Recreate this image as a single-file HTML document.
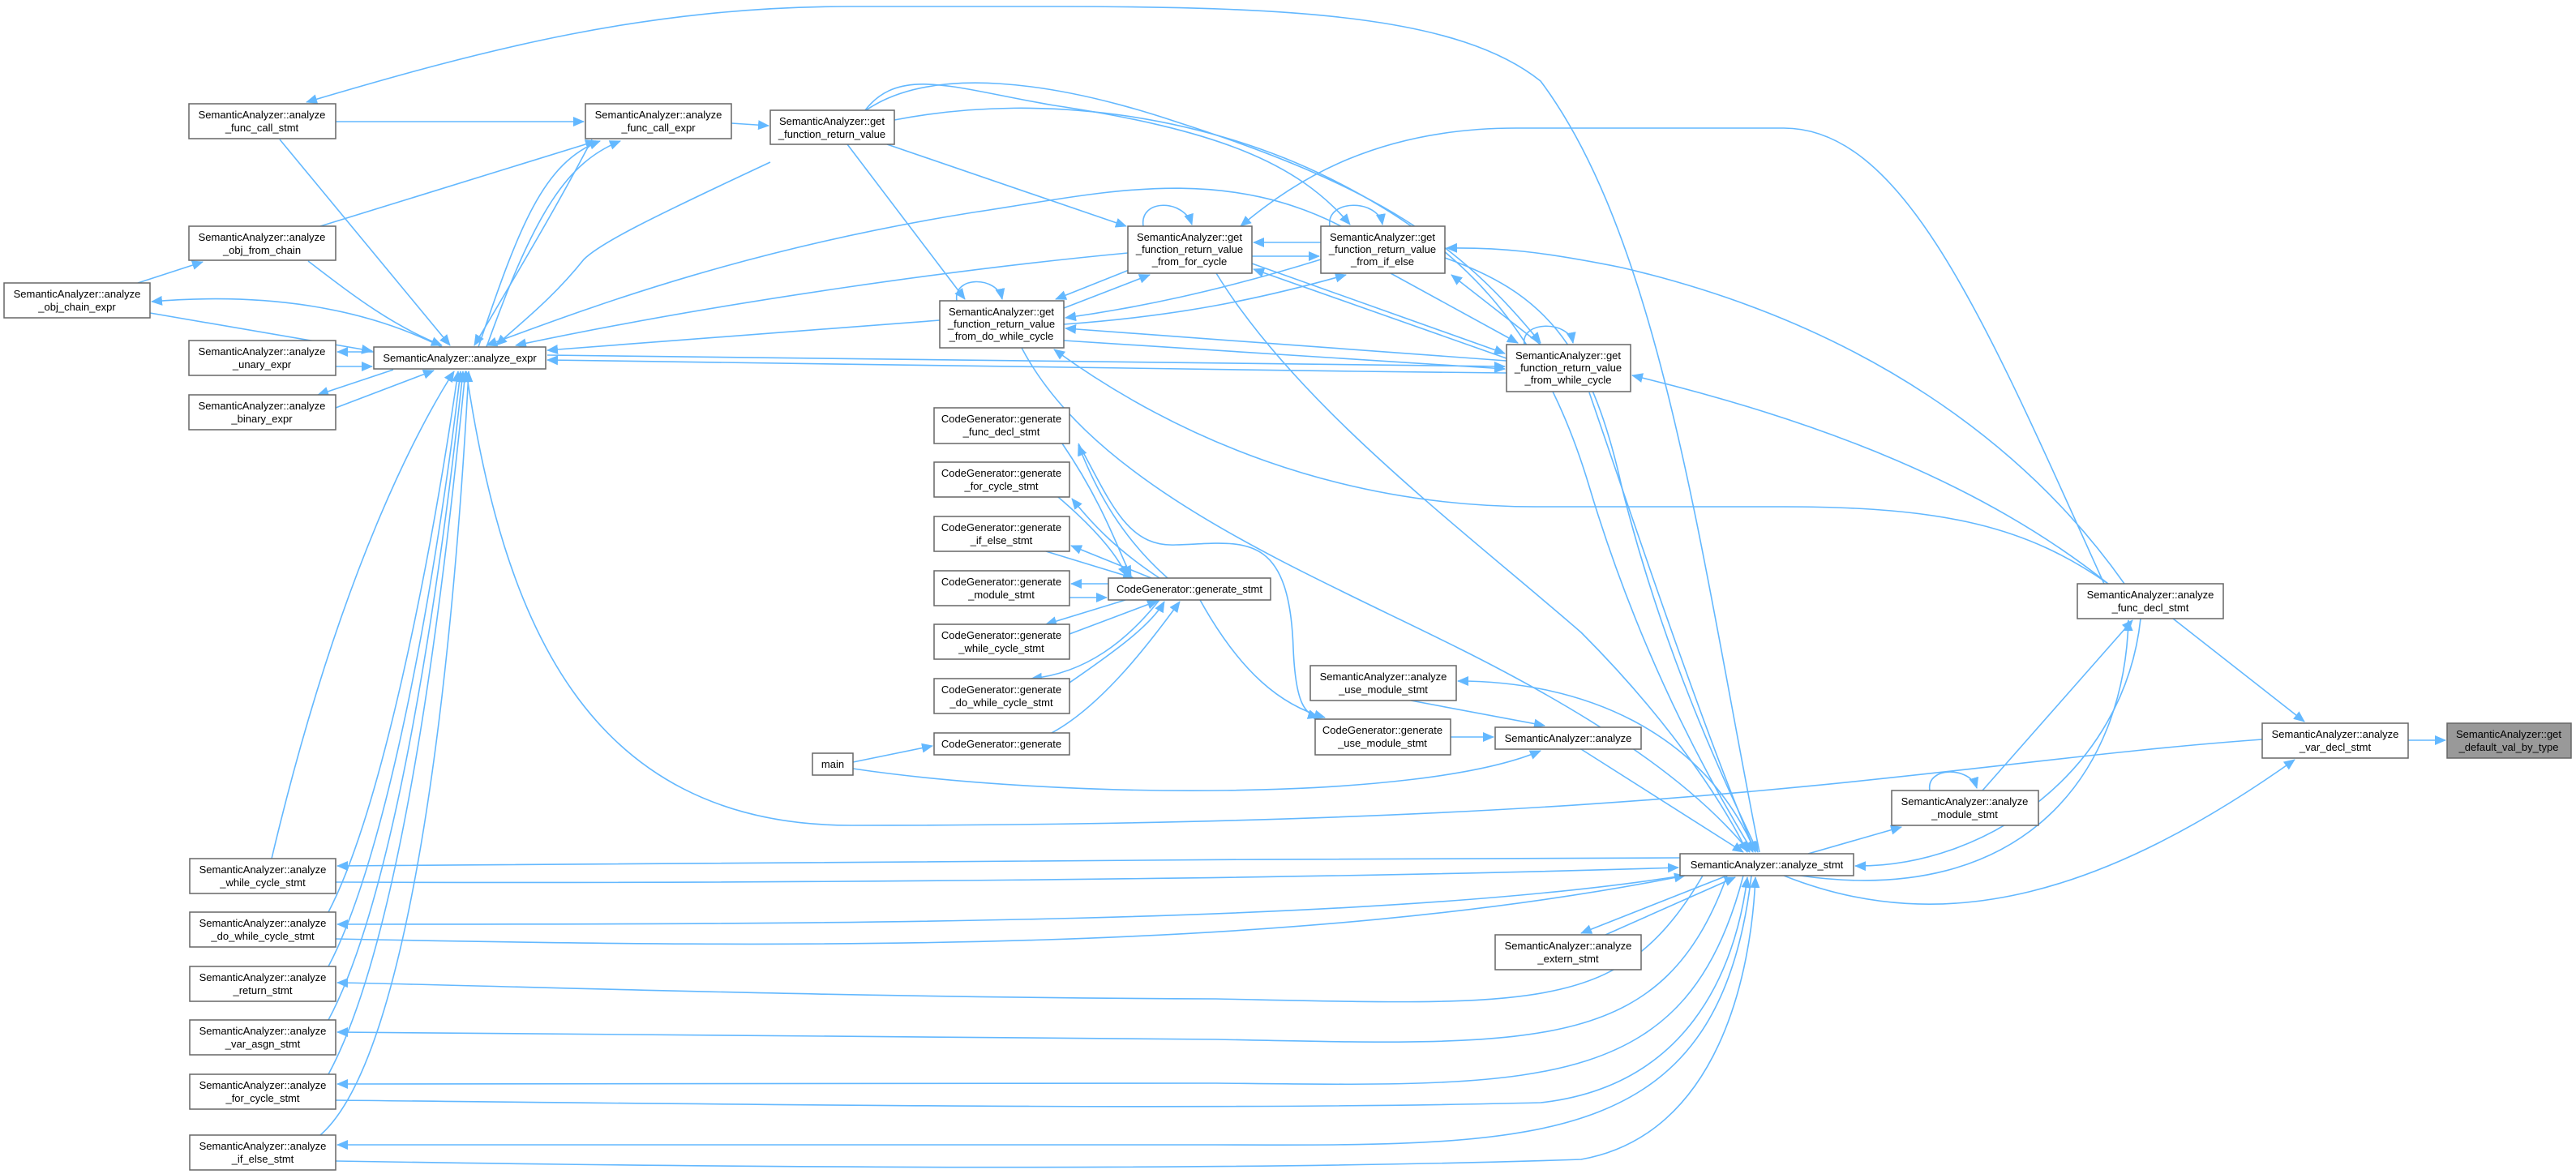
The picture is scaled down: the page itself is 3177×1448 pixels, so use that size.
<!DOCTYPE html>
<html><head><meta charset="utf-8"><style>
html,body{margin:0;padding:0;background:#fff;}
svg{display:block;}
text{font-family:"Liberation Sans",Arial,sans-serif;font-size:13px;fill:#000;text-anchor:middle;}
.n{fill:#fff;stroke:#666;stroke-width:1.5;}
.e{fill:none;stroke:#63b8ff;stroke-width:1.6;marker-end:url(#a);}
</style></head><body>
<svg width="3177" height="1448" viewBox="0 0 3177 1448" xmlns="http://www.w3.org/2000/svg">
<defs><marker id="a" markerWidth="14" markerHeight="12" refX="13" refY="6" orient="auto" markerUnits="userSpaceOnUse"><path d="M0,0 L14,6 L0,12 z" fill="#63b8ff"/></marker></defs>
<g>
<path class="e" d="M414,150 L720,150"/>
<path class="e" d="M902,152 L948,155"/>
<path class="e" d="M345,172 L555,426"/>
<path class="e" d="M395,279 L735,174"/>
<path class="e" d="M380,322 C430,360 480,400 545,426"/>
<path class="e" d="M170,349 L250,323"/>
<path class="e" d="M545,428 C450,380 330,360 187,372"/>
<path class="e" d="M185,386 C300,405 380,420 459,433"/>
<path class="e" d="M461,434 L416,434"/>
<path class="e" d="M414,452 L459,452"/>
<path class="e" d="M485,456 L392,487"/>
<path class="e" d="M414,503 L535,457"/>
<path class="e" d="M730,172 C700,230 660,300 585,426"/>
<path class="e" d="M590,428 C640,280 670,200 740,174"/>
<path class="e" d="M600,428 C660,260 700,200 765,174"/>
<path class="e" d="M950,200 C800,270 740,300 720,320 C680,370 640,400 612,426"/>
<path class="e" d="M1654,279 C1500,200 1350,240 1200,262 C900,310 700,390 600,426"/>
<path class="e" d="M1391,312 C1200,330 900,370 636,426"/>
<path class="e" d="M1159,395 L675,432"/>
<path class="e" d="M1858,460 C1400,455 900,450 675,444"/>
<path class="e" d="M675,438 C1200,444 1600,452 1856,452"/>
<path class="e" d="M2790,912 C2400,940 2100,1018 1050,1018 C720,1018 620,760 575,458"/>
<path class="e" d="M335,1059 C420,700 520,520 560,458"/>
<path class="e" d="M405,1125 C470,1000 530,700 565,458"/>
<path class="e" d="M405,1192 C480,1050 540,700 568,458"/>
<path class="e" d="M405,1258 C490,1100 545,700 571,458"/>
<path class="e" d="M405,1325 C500,1150 550,700 574,458"/>
<path class="e" d="M395,1400 C510,1300 560,800 578,458"/>
<path class="e" d="M1094,178 L1389,279"/>
<path class="e" d="M1045,178 L1190,369"/>
<path class="e" d="M1067,136 C1110,80 1180,110 1300,130 C1500,160 1600,200 1665,277"/>
<path class="e" d="M1103,148 C1300,110 1500,150 1640,220 C1800,300 1900,400 1960,600 C2020,800 2100,950 2162,1051"/>
<path class="e" d="M1068,136 C1150,80 1300,100 1450,150 C1700,230 1800,300 1900,423"/>
<path class="e" d="M1629,299 L1546,299"/>
<path class="e" d="M1544,316 L1627,316"/>
<path class="e" d="M1400,330 L1302,369"/>
<path class="e" d="M1312,380 L1418,339"/>
<path class="e" d="M1629,320 C1500,360 1400,380 1314,392"/>
<path class="e" d="M1312,400 C1450,390 1550,370 1660,339"/>
<path class="e" d="M1544,325 L1856,436"/>
<path class="e" d="M1858,442 L1546,332"/>
<path class="e" d="M1715,337 L1872,423"/>
<path class="e" d="M1900,425 L1790,339"/>
<path class="e" d="M1858,445 L1314,405"/>
<path class="e" d="M1312,420 L1856,455"/>
<path class="e" d="M1960,484 C2000,600 2100,900 2165,1051"/>
<path class="e" d="M1260,429 C1350,600 1600,700 1800,800 C2000,900 2100,980 2158,1051"/>
<path class="e" d="M1500,337 C1600,500 1800,650 1950,780 C2050,880 2120,980 2155,1051"/>
<path class="e" d="M1782,318 C1900,360 1960,420 2000,600 C2050,800 2120,950 2168,1051"/>
<path class="e" d="M2170,1051 C2100,700 2050,300 1900,100 C1800,20 1600,8 1300,8 L1050,8 C800,8 600,60 378,126"/>
<path class="e" d="M2595,720 C2450,400 2350,158 2200,158 L1870,158 C1700,158 1600,220 1530,279"/>
<path class="e" d="M2620,720 C2500,550 2300,400 2000,330 C1900,310 1850,305 1784,306"/>
<path class="e" d="M2600,720 C2450,600 2250,520 2013,463"/>
<path class="e" d="M2600,720 C2500,650 2400,625 2200,625 L1894,625 C1650,625 1450,540 1300,431"/>
<path class="e" d="M2640,763 C2620,950 2450,1070 2288,1068"/>
<path class="e" d="M2220,1080 C2500,1120 2620,950 2625,765"/>
<path class="e" d="M2200,1080 C2400,1160 2600,1100 2830,937"/>
<path class="e" d="M2680,763 L2842,890"/>
<path class="e" d="M2445,975 L2630,765"/>
<path class="e" d="M2230,1053 L2345,1020"/>
<path class="e" d="M2380,975 C2375,945 2430,945 2438,972"/>
<path class="e" d="M2970,913 L3016,913"/>
<path class="e" d="M1950,924 L2150,1051"/>
<path class="e" d="M2165,1051 C2100,900 1950,840 1798,840"/>
<path class="e" d="M1740,864 L1905,895"/>
<path class="e" d="M1789,909 L1842,909"/>
<path class="e" d="M1052,948 C1300,985 1750,990 1900,926"/>
<path class="e" d="M1052,940 L1150,920"/>
<path class="e" d="M1367,720 L1321,720"/>
<path class="e" d="M1319,737 L1365,737"/>
<path class="e" d="M1420,713 L1321,673"/>
<path class="e" d="M1290,680 L1398,713"/>
<path class="e" d="M1440,713 C1380,660 1350,600 1330,549"/>
<path class="e" d="M1310,547 C1360,620 1380,680 1395,711"/>
<path class="e" d="M1430,713 C1380,680 1350,650 1322,615"/>
<path class="e" d="M1305,613 C1360,660 1380,690 1390,711"/>
<path class="e" d="M1388,740 L1290,770"/>
<path class="e" d="M1319,782 L1428,741"/>
<path class="e" d="M1430,740 C1390,790 1340,830 1272,837"/>
<path class="e" d="M1319,842 C1380,800 1420,770 1436,742"/>
<path class="e" d="M1297,904 C1360,870 1420,790 1455,742"/>
<path class="e" d="M1480,740 C1530,830 1580,870 1634,885"/>
<path class="e" d="M1330,547 C1370,620 1390,675 1450,672 C1530,670 1590,650 1595,800 C1598,870 1610,880 1626,885"/>
<path class="e" d="M1410,279 C1405,245 1460,245 1470,277"/>
<path class="e" d="M1640,279 C1635,245 1700,245 1705,277"/>
<path class="e" d="M1180,371 C1175,340 1230,340 1236,369"/>
<path class="e" d="M1880,425 C1875,395 1935,395 1940,423"/>
<path class="e" d="M2072,1058 C1500,1058 800,1068 416,1068"/>
<path class="e" d="M414,1088 C900,1090 1600,1085 2070,1070"/>
<path class="e" d="M2075,1080 C1700,1140 1000,1140 416,1140"/>
<path class="e" d="M414,1158 C1000,1170 1600,1175 2078,1080"/>
<path class="e" d="M2100,1080 C2000,1250 1900,1240 1500,1232 C1000,1230 600,1215 416,1212"/>
<path class="e" d="M2130,1080 C2050,1300 1900,1290 1500,1282 C1000,1276 600,1273 416,1273"/>
<path class="e" d="M2150,1080 C2080,1350 1900,1340 1500,1336 L416,1337"/>
<path class="e" d="M414,1357 C900,1362 1500,1370 1900,1360 C2080,1340 2140,1200 2155,1082"/>
<path class="e" d="M2160,1080 C2120,1420 1900,1413 1500,1412 L416,1412"/>
<path class="e" d="M414,1432 C900,1440 1500,1445 1950,1430 C2120,1400 2160,1200 2165,1082"/>
<path class="e" d="M2130,1080 L1950,1151"/>
<path class="e" d="M1980,1153 L2140,1082"/>
</g>
<g>
<rect class="n" x="233" y="128" width="181" height="43"/><text x="323" y="146">SemanticAnalyzer::analyze</text><text x="323" y="162">_func_call_stmt</text>
<rect class="n" x="722" y="128" width="180" height="43"/><text x="812" y="146">SemanticAnalyzer::analyze</text><text x="812" y="162">_func_call_expr</text>
<rect class="n" x="950" y="136" width="153" height="42"/><text x="1026" y="154">SemanticAnalyzer::get</text><text x="1026" y="170">_function_return_value</text>
<rect class="n" x="233" y="279" width="181" height="42"/><text x="323" y="297">SemanticAnalyzer::analyze</text><text x="323" y="313">_obj_from_chain</text>
<rect class="n" x="5" y="349" width="180" height="43"/><text x="95" y="367">SemanticAnalyzer::analyze</text><text x="95" y="383">_obj_chain_expr</text>
<rect class="n" x="233" y="420" width="181" height="43"/><text x="323" y="438">SemanticAnalyzer::analyze</text><text x="323" y="454">_unary_expr</text>
<rect class="n" x="461" y="428" width="212" height="27"/><text x="567" y="446">SemanticAnalyzer::analyze_expr</text>
<rect class="n" x="233" y="487" width="181" height="43"/><text x="323" y="505">SemanticAnalyzer::analyze</text><text x="323" y="521">_binary_expr</text>
<rect class="n" x="1391" y="279" width="153" height="58"/><text x="1467" y="297">SemanticAnalyzer::get</text><text x="1467" y="312">_function_return_value</text><text x="1467" y="327">_from_for_cycle</text>
<rect class="n" x="1629" y="279" width="153" height="58"/><text x="1705" y="297">SemanticAnalyzer::get</text><text x="1705" y="312">_function_return_value</text><text x="1705" y="327">_from_if_else</text>
<rect class="n" x="1159" y="371" width="153" height="58"/><text x="1235" y="389">SemanticAnalyzer::get</text><text x="1235" y="404">_function_return_value</text><text x="1235" y="419">_from_do_while_cycle</text>
<rect class="n" x="1858" y="425" width="153" height="58"/><text x="1934" y="443">SemanticAnalyzer::get</text><text x="1934" y="458">_function_return_value</text><text x="1934" y="473">_from_while_cycle</text>
<rect class="n" x="1152" y="503" width="167" height="44"/><text x="1235" y="521">CodeGenerator::generate</text><text x="1235" y="537">_func_decl_stmt</text>
<rect class="n" x="1152" y="570" width="167" height="43"/><text x="1235" y="588">CodeGenerator::generate</text><text x="1235" y="604">_for_cycle_stmt</text>
<rect class="n" x="1152" y="637" width="167" height="43"/><text x="1235" y="655">CodeGenerator::generate</text><text x="1235" y="671">_if_else_stmt</text>
<rect class="n" x="1152" y="704" width="167" height="43"/><text x="1235" y="722">CodeGenerator::generate</text><text x="1235" y="738">_module_stmt</text>
<rect class="n" x="1367" y="713" width="200" height="27"/><text x="1467" y="731">CodeGenerator::generate_stmt</text>
<rect class="n" x="1152" y="770" width="167" height="43"/><text x="1235" y="788">CodeGenerator::generate</text><text x="1235" y="804">_while_cycle_stmt</text>
<rect class="n" x="1152" y="837" width="167" height="43"/><text x="1235" y="855">CodeGenerator::generate</text><text x="1235" y="871">_do_while_cycle_stmt</text>
<rect class="n" x="1152" y="904" width="167" height="27"/><text x="1235" y="922">CodeGenerator::generate</text>
<rect class="n" x="1002" y="929" width="50" height="27"/><text x="1027" y="947">main</text>
<rect class="n" x="1616" y="821" width="180" height="43"/><text x="1706" y="839">SemanticAnalyzer::analyze</text><text x="1706" y="855">_use_module_stmt</text>
<rect class="n" x="1622" y="887" width="167" height="44"/><text x="1705" y="905">CodeGenerator::generate</text><text x="1705" y="921">_use_module_stmt</text>
<rect class="n" x="1844" y="897" width="180" height="27"/><text x="1934" y="915">SemanticAnalyzer::analyze</text>
<rect class="n" x="2333" y="975" width="181" height="43"/><text x="2423" y="993">SemanticAnalyzer::analyze</text><text x="2423" y="1009">_module_stmt</text>
<rect class="n" x="2072" y="1053" width="214" height="27"/><text x="2179" y="1071">SemanticAnalyzer::analyze_stmt</text>
<rect class="n" x="1844" y="1153" width="180" height="43"/><text x="1934" y="1171">SemanticAnalyzer::analyze</text><text x="1934" y="1187">_extern_stmt</text>
<rect class="n" x="2562" y="720" width="180" height="43"/><text x="2652" y="738">SemanticAnalyzer::analyze</text><text x="2652" y="754">_func_decl_stmt</text>
<rect class="n" x="2790" y="892" width="180" height="43"/><text x="2880" y="910">SemanticAnalyzer::analyze</text><text x="2880" y="926">_var_decl_stmt</text>
<rect x="3018" y="892" width="153" height="43" fill="#999" stroke="#666" stroke-width="1.5"/><text x="3094" y="910">SemanticAnalyzer::get</text><text x="3094" y="926">_default_val_by_type</text>
<rect class="n" x="234" y="1059" width="180" height="43"/><text x="324" y="1077">SemanticAnalyzer::analyze</text><text x="324" y="1093">_while_cycle_stmt</text>
<rect class="n" x="234" y="1125" width="180" height="43"/><text x="324" y="1143">SemanticAnalyzer::analyze</text><text x="324" y="1159">_do_while_cycle_stmt</text>
<rect class="n" x="234" y="1192" width="180" height="43"/><text x="324" y="1210">SemanticAnalyzer::analyze</text><text x="324" y="1226">_return_stmt</text>
<rect class="n" x="234" y="1258" width="180" height="43"/><text x="324" y="1276">SemanticAnalyzer::analyze</text><text x="324" y="1292">_var_asgn_stmt</text>
<rect class="n" x="234" y="1325" width="180" height="43"/><text x="324" y="1343">SemanticAnalyzer::analyze</text><text x="324" y="1359">_for_cycle_stmt</text>
<rect class="n" x="234" y="1400" width="180" height="43"/><text x="324" y="1418">SemanticAnalyzer::analyze</text><text x="324" y="1434">_if_else_stmt</text>
</g>
</svg>
</body></html>
